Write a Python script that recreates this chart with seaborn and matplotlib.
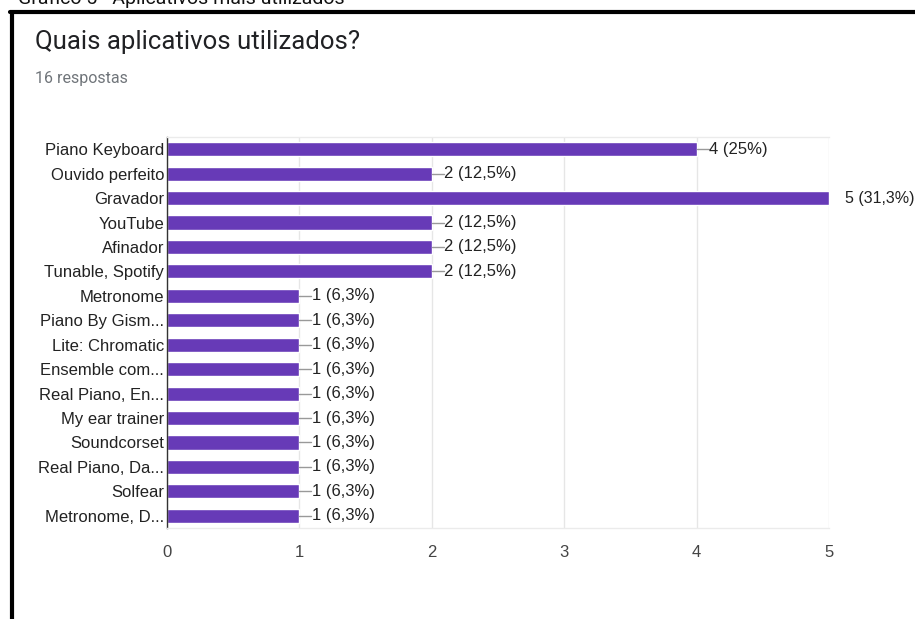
import matplotlib
matplotlib.use('Agg')
import matplotlib.pyplot as plt
import seaborn as sns
import pandas as pd
from matplotlib.lines import Line2D

# data
apps = ['Piano Keyboard', 'Ouvido perfeito', 'Gravador', 'YouTube', 'Afinador',
        'Tunable, Spotify', 'Metronome', 'Piano By Gism...', 'Lite: Chromatic',
        'Ensemble com...', 'Real Piano, En...', 'My ear trainer', 'Soundcorset',
        'Real Piano, Da...', 'Solfear', 'Metronome, D...']
counts = [4, 2, 5, 2, 2, 2, 1, 1, 1, 1, 1, 1, 1, 1, 1, 1]
pct_labels = ['25%', '12,5%', '31,3%', '12,5%', '12,5%', '12,5%', '6,3%', '6,3%',
              '6,3%', '6,3%', '6,3%', '6,3%', '6,3%', '6,3%', '6,3%', '6,3%']
n_resp = 16

df = pd.DataFrame({'app': apps, 'n': counts})

sns.set_style('white')
plt.rcParams['font.family'] = ['Liberation Sans', 'DejaVu Sans']

fig = plt.figure(figsize=(9.15, 6.19), dpi=100)
ax = fig.add_axes([0.1825, 0.147, 0.7235, 0.6317])

sns.barplot(data=df, x='n', y='app', orient='h', color='#673ab7', saturation=1,
            width=0.58, ax=ax)

ax.set_xlim(0, 5)
ax.set_ylim(15.5, -0.5)
ax.set_xticks(range(6))
ax.set_xlabel('')
ax.set_ylabel('')
ax.grid(axis='x', color='#e6e6e6', linewidth=1)
ax.set_axisbelow(True)
for s in ['top', 'bottom']:
    ax.spines[s].set_color('#ebebeb')
    ax.spines[s].set_linewidth(1)
ax.spines['right'].set_visible(False)
ax.spines['left'].set_color('#333333')
ax.spines['left'].set_linewidth(1)
ax.tick_params(axis='both', length=0, labelsize=12, colors='#222222', pad=2)
ax.tick_params(axis='x', pad=12, labelcolor='#444444')

# value labels with short leader line
for i, (v, p) in enumerate(zip(counts, pct_labels)):
    if v >= 5:
        ax.text(v + 0.12, i, f'{v} ({p})', va='center', ha='left', fontsize=11.5,
                color='#222222', clip_on=False)
    else:
        ax.plot([v, v + 0.09], [i, i], color='#999999', linewidth=1, clip_on=False)
        ax.text(v + 0.095, i, f'{v} ({p})', va='center', ha='left', fontsize=12,
                color='#222222', clip_on=False)

# header texts
fig.text(0.038, 1 - 42 / 619, 'Quais aplicativos utilizados?', fontsize=18.5,
         family=['Roboto', 'DejaVu Sans'], color='#202124', va='center', ha='left')
fig.text(0.038, 1 - 78 / 619, f'{n_resp} respostas', fontsize=11.5,
         family=['Roboto', 'DejaVu Sans'], color='#70757a', va='center', ha='left')
fig.text(0.02, 1 - 4 / 619, 'Gráfico 5 - Aplicativos mais utilizados', fontsize=14,
         family=['Roboto', 'DejaVu Sans'], color='#111111', va='baseline', ha='left')

# black frame around the screenshot
fig.add_artist(Line2D([12 / 915, 12 / 915], [0, 1 - 12 / 619], color='black',
                      linewidth=3, transform=fig.transFigure))
fig.add_artist(Line2D([10 / 915, 1], [1 - 12 / 619, 1 - 12 / 619], color='black',
                      linewidth=3, transform=fig.transFigure))

fig.savefig('out.png', dpi=100, facecolor='white')
